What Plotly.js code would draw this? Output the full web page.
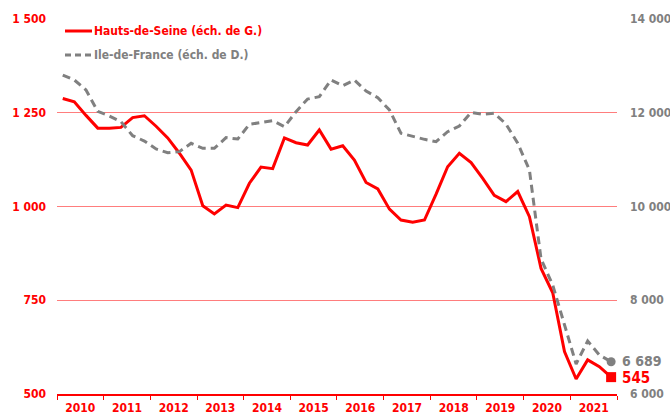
<!DOCTYPE html>
<html><head><meta charset="utf-8">
<script src="https://cdn.plot.ly/plotly-3.0.1.min.js"></script>
<style>html,body{margin:0;padding:0;background:#fff}#chart{width:670px;height:414px}</style>
</head><body><div id="chart"></div>
<script>
const quarters = [
 '2010-T1','2010-T2','2010-T3','2010-T4','2011-T1','2011-T2','2011-T3','2011-T4',
 '2012-T1','2012-T2','2012-T3','2012-T4','2013-T1','2013-T2','2013-T3','2013-T4',
 '2014-T1','2014-T2','2014-T3','2014-T4','2015-T1','2015-T2','2015-T3','2015-T4',
 '2016-T1','2016-T2','2016-T3','2016-T4','2017-T1','2017-T2','2017-T3','2017-T4',
 '2018-T1','2018-T2','2018-T3','2018-T4','2019-T1','2019-T2','2019-T3','2019-T4',
 '2020-T1','2020-T2','2020-T3','2020-T4','2021-T1','2021-T2','2021-T3','2021-T4'];
const hautsDeSeine = [
 1288,1279,1243,1209,1209,1211,1237,1242,
 1214,1183,1142,1097,1002,980,1004,997,
 1062,1105,1101,1183,1170,1164,1204,1153,
 1162,1124,1064,1047,993,964,958,964,
 1033,1106,1142,1117,1075,1030,1013,1040,
 973,835,770,613,540,591,573,545];
const ileDeFrance = [
 12805,12699,12485,12030,11931,11810,11510,11397,
 11227,11148,11170,11348,11241,11241,11468,11440,
 11753,11788,11831,11703,12023,12293,12343,12699,
 12578,12699,12464,12321,12059,11561,11490,11433,
 11383,11596,11717,12009,11966,11988,11760,11348,
 10779,8880,8325,7450,6640,7131,6832,6689];
const seriesNames = ['Hauts-de-Seine (éch. de G.)', 'Ile-de-France (éch. de D.)'];
const leftTicks = [500, 750, 1000, 1250, 1500];
const rightTicks = [6000, 8000, 10000, 12000, 14000];

const RED = '#ff0000', GRAY = '#808080', GRID = '#ff7d7d';
const FONT = '"DejaVu Sans Condensed", "DejaVu Sans", sans-serif';

function quarterMid(q) {
  const [y, t] = q.split('-T');
  const m = (parseInt(t, 10) - 1) * 3;
  const a = Date.UTC(+y, m, 1), b = Date.UTC(+y, m + 3, 1);
  return new Date((a + b) / 2).toISOString().slice(0, 19).replace('T', ' ');
}
function fmt(v) { return String(v).replace(/\B(?=(\d{3})+(?!\d))/g, ' '); }

const x = quarters.map(quarterMid);
const n = x.length - 1;

const data = [
  {x: x, y: ileDeFrance, yaxis: 'y2', type: 'scatter', mode: 'lines', name: seriesNames[1],
   line: {color: GRAY, width: 3, dash: '8px,5px'}, showlegend: false, hoverinfo: 'skip'},
  {x: x, y: hautsDeSeine, yaxis: 'y', type: 'scatter', mode: 'lines', name: seriesNames[0],
   line: {color: RED, width: 3}, showlegend: false, hoverinfo: 'skip'},
  {x: [x[n]], y: [ileDeFrance[n]], yaxis: 'y2', type: 'scatter', mode: 'markers',
   marker: {color: GRAY, size: 9, symbol: 'circle'}, showlegend: false, hoverinfo: 'skip'},
  {x: [x[n]], y: [hautsDeSeine[n]], yaxis: 'y', type: 'scatter', mode: 'markers',
   marker: {color: RED, size: 10, symbol: 'square'}, showlegend: false, hoverinfo: 'skip'}
];

const L = 57, R = 53, T = 19, B = 20, W = 670, H = 414;
const pw = W - L - R, ph = H - T - B;
const px = v => (v - L) / pw;
const py = v => (H - B - v) / ph;

const layout = {
  width: W, height: H,
  margin: {l: L, r: R, t: T, b: B, pad: 0},
  paper_bgcolor: '#fff', plot_bgcolor: '#fff',
  separators: ', ',
  showlegend: false,
  font: {family: FONT},
  xaxis: {
    type: 'date', range: ['2010-01-01', '2022-01-01'],
    tick0: '2010-01-01', dtick: 'M12', ticklabelmode: 'period', tickformat: '%Y',
    ticks: 'outside', ticklen: 4, tickcolor: RED, tickwidth: 1,
    showline: true, linecolor: RED, linewidth: 1.5,
    showgrid: false, zeroline: false, ticklabelstandoff: -2,
    tickfont: {family: FONT, size: 12, color: RED, weight: 'bold'},
    fixedrange: true
  },
  yaxis: {
    range: [500, 1500], tickvals: leftTicks, tickformat: ',d',
    showgrid: true, gridcolor: GRID, gridwidth: 1, zeroline: false,
    ticks: '', ticklabelstandoff: 10,
    tickfont: {family: FONT, size: 12, color: RED, weight: 'bold'},
    fixedrange: true
  },
  yaxis2: {
    overlaying: 'y', side: 'right',
    range: [6000, 14000], tickvals: rightTicks, tickformat: ',d',
    showgrid: false, zeroline: false, ticks: '', ticklabelstandoff: 12,
    tickfont: {family: FONT, size: 12, color: GRAY, weight: 'bold'},
    fixedrange: true
  },
  shapes: [
    {type: 'line', xref: 'paper', yref: 'paper', x0: px(65), x1: px(92), y0: py(31), y1: py(31),
     line: {color: RED, width: 3}},
    {type: 'line', xref: 'paper', yref: 'paper', x0: px(65), x1: px(92), y0: py(55), y1: py(55),
     line: {color: GRAY, width: 3, dash: '6px,4px'}}
  ],
  annotations: [
    {xref: 'paper', yref: 'paper', x: px(92), y: py(31), xanchor: 'left', yanchor: 'middle',
     text: seriesNames[0], showarrow: false, font: {family: FONT, size: 12, color: RED, weight: 'bold'}},
    {xref: 'paper', yref: 'paper', x: px(92), y: py(55), xanchor: 'left', yanchor: 'middle',
     text: seriesNames[1], showarrow: false, font: {family: FONT, size: 12, color: GRAY, weight: 'bold'}},
    {x: x[n], y: ileDeFrance[n], yref: 'y2', xanchor: 'left', yanchor: 'middle', xshift: 9, yshift: 1,
     text: fmt(ileDeFrance[n]), showarrow: false, font: {family: FONT, size: 14, color: GRAY, weight: 'bold'}},
    {x: x[n], y: hautsDeSeine[n], yref: 'y', xanchor: 'left', yanchor: 'middle', xshift: 9, yshift: -1,
     text: fmt(hautsDeSeine[n]), showarrow: false, font: {family: FONT, size: 15, color: RED, weight: 'bold'}}
  ]
};

Plotly.newPlot('chart', data, layout, {staticPlot: true, displayModeBar: false});
</script>
</body></html>
